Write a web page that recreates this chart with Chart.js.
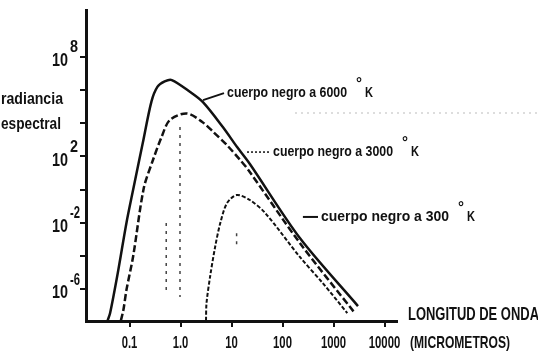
<!DOCTYPE html>
<html>
<head>
<meta charset="utf-8">
<script src="https://cdn.jsdelivr.net/npm/chart.js@4"></script>
<style>
  html, body { margin: 0; padding: 0; background: #fff; }
  canvas { display: block; }
</style>
</head>
<body>
<canvas id="c" width="538" height="353"></canvas>
<script>
// x = log10(longitud de onda, micrometros), y = log10(radiancia espectral)
const wl6000 = [-1.43, -1.38, -1.23, -1.06, -0.93, -0.74, -0.57, -0.45, -0.31, -0.17, 0.19, 0.44, 0.83, 1.11, 1.36, 2.34, 3.48]
const rad6000 = [-7.9, -7.44, -5.03, -2.01, -0.03, 2.80, 5.30, 6.20, 6.52, 6.60, 5.88, 5.27, 3.77, 2.56, 1.54, -2.92, -7.02]

const wl3000 = [-1.17, -1.12, -1.06, -0.93, -0.72, -0.54, -0.37, -0.21, 0.12, 0.42, 0.64, 0.91, 1.17, 1.33, 2.34, 3.40]
const rad3000 = [-7.9, -7.26, -6.05, -4.05, 0.09, 1.78, 3.18, 4.19, 4.59, 4.09, 3.48, 2.68, 1.78, 1.18, -3.22, -7.37]

const wl300 = [0.50, 0.51, 0.58, 0.68, 0.78, 0.91, 1.10, 1.36, 1.66, 2.34, 2.79, 3.27]
const rad300 = [-7.9, -6.85, -5.25, -3.44, -2.02, -0.83, -0.33, -0.63, -1.41, -4.06, -5.64, -7.44]

// dotted vertical marks
const markX = [-0.28, -0.01, 1.10]
const markTop = [-2.02, 3.77, -2.63]
const markBottom = [-6.23, -6.47, -3.48]

const xTickVals = [-1, 0, 1, 2, 3, 4]
const xTickLabels = ['0.1', '1.0', '10', '100', '1000', '10000']
const yTickVals = [8, 6, 4, 2, 0, -2, -4, -6]
const yLabelVals = [8, 2, -2, -6]
const yLabelExp = ['8', '2', '-2', '-6']

const seriesNames = ['cuerpo negro a 6000', 'cuerpo negro a 3000', 'cuerpo negro a 300']
// where each label starts (axis units) and where its leader line begins
const labelX = [0.912, 1.814, 2.755]
const labelY = [5.81, 2.26, -1.65]
const leaderX = [0.441, 1.304, 2.40]
const leaderY = [5.39, 2.26, -1.65]

const INK = '#111'
const FONT = '"Liberation Sans", Arial, sans-serif'

function pts(xs, ys) {
  return xs.map((x, i) => ({x: x, y: ys[i]}))
}

const datasets = [
  {data: pts(wl6000, rad6000), borderColor: INK, borderWidth: 2.5},
  {data: pts(wl3000, rad3000), borderColor: INK, borderWidth: 2.5, borderDash: [7, 3]},
  {data: pts(wl300, rad300), borderColor: INK, borderWidth: 2, borderDash: [4, 2]}
]
markX.forEach((x, i) => {
  datasets.push({
    data: [{x: x, y: markTop[i]}, {x: x, y: markBottom[i]}],
    borderColor: '#444', borderWidth: 1.5, borderDash: [3, 5], tension: 0
  })
})
datasets.forEach(d => {
  d.pointRadius = 0
  d.fill = false
  if (d.tension === undefined) d.tension = 0.3
})

// draw text squeezed to a given width (the scan uses a narrow face)
function txt(ctx, s, x, y, size, w, align) {
  ctx.save()
  ctx.font = 'bold ' + size + 'px ' + FONT
  const m = ctx.measureText(s).width
  const sx = w ? w / m : 1
  let left = x
  if (align === 'right') left = x - m * sx
  if (align === 'center') left = x - m * sx / 2
  ctx.translate(left, y)
  ctx.scale(sx, 1)
  ctx.textBaseline = 'middle'
  ctx.textAlign = 'left'
  ctx.fillStyle = INK
  ctx.fillText(s, 0, 0)
  ctx.restore()
  return left + m * sx
}

const textPlugin = {
  id: 'texts',
  afterDraw(chart) {
    const ctx = chart.ctx
    const xs = chart.scales.x
    const ys = chart.scales.y

    // y axis title
    txt(ctx, 'radiancia', 1, 99, 17, 62)
    txt(ctx, 'espectral', 1, 124, 17, 60)

    // y tick labels 10^n
    yLabelVals.forEach((v, i) => {
      const py = ys.getPixelForValue(v)
      txt(ctx, '10', 68, py + 4, 19, 16, 'right')
      txt(ctx, yLabelExp[i], 70, py - 9, 16, yLabelExp[i].length > 1 ? 10 : 8)
    })

    // x tick labels
    xTickVals.forEach((v, i) => {
      const s = xTickLabels[i]
      const px = xs.getPixelForValue(v)
      const digits = s.replace('.', '').length
      const w = digits * 6.3 + (s.includes('.') ? 3 : 0)
      txt(ctx, s, px, 343, 17, w, 'center')
    })

    // x axis title
    txt(ctx, 'LONGITUD DE ONDA', 408, 315, 18, 131)
    txt(ctx, '(MICROMETROS)', 410, 343, 17, 100)

    // curve labels with leaders
    seriesNames.forEach((name, i) => {
      const lx = xs.getPixelForValue(labelX[i])
      const ly = ys.getPixelForValue(labelY[i])
      const ax = xs.getPixelForValue(leaderX[i])
      const ay = ys.getPixelForValue(leaderY[i])
      ctx.save()
      ctx.strokeStyle = INK
      ctx.lineWidth = i === 1 ? 1.5 : 2
      if (i === 1) ctx.setLineDash([2, 2])
      ctx.beginPath()
      ctx.moveTo(ax, ay)
      ctx.lineTo(lx - 3, ly)
      ctx.stroke()
      ctx.restore()
      const end = txt(ctx, name, lx, ly, 14, i === 2 ? 128 : 120)
      txt(ctx, '°', end + 9, ly - 9, 15, 6)
      txt(ctx, 'K', end + 18, ly, 15, 8)
    })

    // faint scan line
    ctx.save()
    ctx.strokeStyle = '#bbb'
    ctx.lineWidth = 1
    ctx.setLineDash([2, 4])
    ctx.beginPath()
    ctx.moveTo(295, 113)
    ctx.lineTo(538, 113)
    ctx.stroke()
    ctx.restore()
  }
}

const chart = new Chart(document.getElementById('c'), {
  type: 'line',
  data: {datasets: datasets},
  options: {
    responsive: false,
    animation: false,
    layout: {padding: {left: 0, right: 141, top: 10, bottom: 0}},
    plugins: {legend: {display: false}, tooltip: {enabled: false}},
    scales: {
      x: {
        type: 'linear',
        min: -1.853,
        max: 4.245,
        afterBuildTicks: s => { s.ticks = xTickVals.map(v => ({value: v})) },
        afterFit: s => { s.height = 32 },
        ticks: {display: false},
        grid: {display: true, drawOnChartArea: false, drawTicks: true, tickLength: 6, color: INK, lineWidth: 2},
        border: {display: true, color: INK, width: 3}
      },
      y: {
        type: 'linear',
        min: -7.92,
        max: 10.82,
        afterBuildTicks: s => { s.ticks = yTickVals.map(v => ({value: v})) },
        afterFit: s => { s.width = 86 },
        ticks: {display: false},
        grid: {display: true, drawOnChartArea: false, drawTicks: true, tickLength: 6, color: INK, lineWidth: 2},
        border: {display: true, color: INK, width: 3}
      }
    }
  },
  plugins: [textPlugin]
})
</script>
</body>
</html>
